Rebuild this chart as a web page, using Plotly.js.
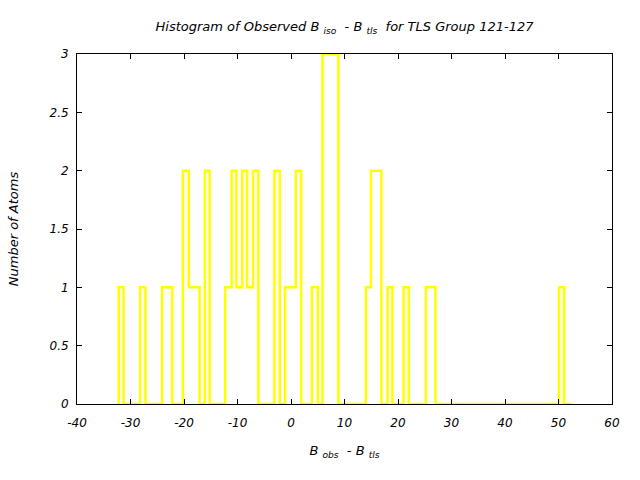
<!DOCTYPE html>
<html>
<head>
<meta charset="utf-8">
<script src="https://cdn.plot.ly/plotly-3.0.1.min.js"></script>
<style>html,body{margin:0;padding:0;background:#fff;}#plot{width:640px;height:480px;}</style>
</head>
<body>
<div id="plot"></div>
<script>
// Step outline of the histogram: x position of each step and the count that starts there
const stepX = [-32.2, -32.2, -31.3, -28.2, -27.2, -24.1, -22.2, -20.2, -19.1, -17.1, -16.1, -15.2,
  -12.3, -11.1, -10.2, -9.1, -8.2, -7.1, -6.1, -3.1, -2.1, -1.1, 0.9, 1.9, 3.9, 5.0, 5.9, 8.85,
  14.0, 14.95, 16.9, 18.05, 18.95, 21.05, 22.0, 25.2, 27.0, 50.1, 51.05, 52.4];
const counts = [0, 1, 0, 1, 0, 1, 0, 2, 1, 0, 2, 0,
  1, 2, 1, 2, 1, 2, 0, 2, 0, 1, 2, 0, 1, 0, 3, 0,
  1, 2, 0, 1, 0, 1, 0, 1, 0, 1, 0, 0];
const xTicks = [-40, -30, -20, -10, 0, 10, 20, 30, 40, 50, 60];
const yTicks = [0, 0.5, 1, 1.5, 2, 2.5, 3];
const yTickText = ['0', '0.5', '1', '1.5', '2', '2.5', '3'];

const font = 'DejaVu Sans, sans-serif';
const trace = {
  x: stepX, y: counts, type: 'scatter', mode: 'lines',
  line: {shape: 'hv', color: '#ffff00', width: 2.5},
  hoverinfo: 'none', cliponaxis: false
};
const axisCommon = {
  showgrid: false, zeroline: false, showline: true, linecolor: '#000', linewidth: 1,
  mirror: 'ticks', ticks: 'inside', ticklen: 5, tickcolor: '#000', tickwidth: 1,
  tickfont: {family: font, size: 12, color: '#000', style: 'italic'}
};
const layout = {
  width: 640, height: 480,
  margin: {l: 77, r: 28, t: 54, b: 76},
  paper_bgcolor: '#fff', plot_bgcolor: '#fff',
  showlegend: false,
  title: {
    text: 'Histogram of Observed B <sub>iso</sub>  - B <sub>tls</sub>  for TLS Group 121-127',
    font: {family: font, size: 13, color: '#000', style: 'italic'},
    xref: 'paper', x: 0.5, xanchor: 'center', yref: 'container', y: 0.945, yanchor: 'middle'
  },
  xaxis: Object.assign({}, axisCommon, {
    range: [-40, 60], tickvals: xTicks, ticktext: xTicks.map(String), ticklabelstandoff: 8,
    title: {text: 'B <sub>obs</sub>  - B <sub>tls</sub>', font: {family: font, size: 13, color: '#000', style: 'italic'}, standoff: 16}
  }),
  yaxis: Object.assign({}, axisCommon, {
    range: [0, 3], tickvals: yTicks, ticktext: yTickText, ticklabelstandoff: 5,
    title: {text: 'Number of Atoms', font: {family: font, size: 13, color: '#000', style: 'italic'}, standoff: 27}
  })
};
Plotly.newPlot('plot', [trace], layout, {displayModeBar: false, staticPlot: true});
</script>
</body>
</html>
